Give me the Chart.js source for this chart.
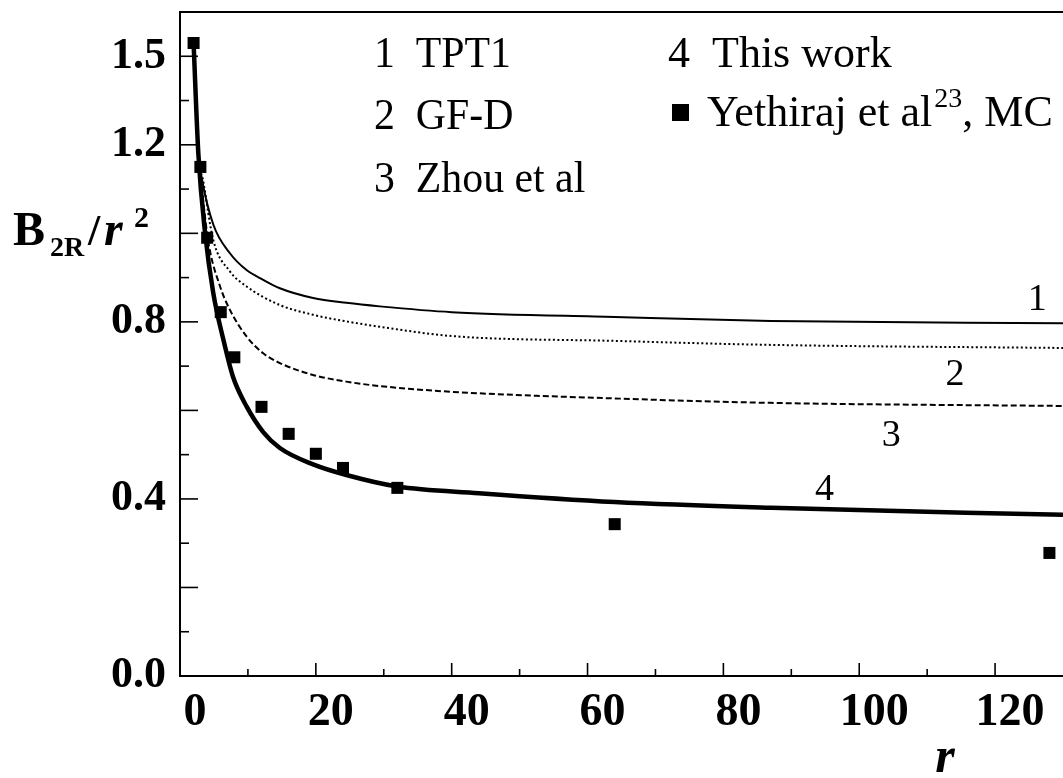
<!DOCTYPE html>
<html>
<head>
<meta charset="utf-8">
<script src="https://cdn.jsdelivr.net/npm/chart.js@4"></script>
<style>
  body { margin: 0; background: #fff; }
</style>
</head>
<body>
<canvas id="chart" width="1063" height="778"></canvas>
<script>
// MC points, Yethiraj et al
const mcR = [2, 3, 4, 6, 8, 12, 16, 20, 24, 32, 64, 128];
const mcB = [1.43, 1.15, 0.99, 0.822, 0.72, 0.608, 0.547, 0.502, 0.47, 0.425, 0.343, 0.278];

// curve 1: TPT1
const tpt1R = [2, 2.7, 3.2, 4.9, 7.35, 9.8, 12.25, 14.7, 19.6, 24.5, 29.4, 40, 64, 87, 130];
const tpt1B = [1.43, 1.18, 1.125, 1.02, 0.955, 0.917, 0.895, 0.876, 0.854, 0.843, 0.835, 0.822, 0.811, 0.802, 0.797];

// curve 2: GF-D
const gfdR = [2, 2.7, 3.4, 4.9, 7.35, 9.8, 14.7, 19.6, 24.5, 29.4, 40, 64, 87, 130];
const gfdB = [1.43, 1.18, 1.12, 0.985, 0.914, 0.88, 0.838, 0.816, 0.801, 0.789, 0.768, 0.757, 0.748, 0.741];

// curve 3: Zhou et al
const zhouR = [2, 2.7, 3.3, 4.2, 5.9, 7.35, 9.8, 12.25, 14.7, 19.6, 24.5, 29.4, 40, 64, 87, 130];
const zhouB = [1.43, 1.18, 1.09, 0.978, 0.88, 0.827, 0.767, 0.729, 0.707, 0.68, 0.665, 0.655, 0.642, 0.627, 0.617, 0.61];

// curve 4: this work
const thisR = [2, 2.7, 3.7, 4.9, 6.4, 7.8, 9.8, 12.25, 14.7, 19.6, 24.5, 32, 44, 64, 87, 130];
const thisB = [1.43, 1.18, 1.0, 0.865, 0.759, 0.676, 0.609, 0.551, 0.515, 0.478, 0.454, 0.428, 0.413, 0.393, 0.38, 0.364];

const xLabels = [0, 20, 40, 60, 80, 100, 120];
// the scanned figure writes "1.5" next to the 1.4 tick
const yLabels = { 0: "0.0", 4: "0.4", 8: "0.8", 12: "1.2", 14: "1.5" };
const curveTags = ["1", "2", "3", "4"];
const legendLines = ["1  TPT1", "2  GF-D", "3  Zhou et al", "4  This work"];

const SERIF = "'Liberation Serif', 'Times New Roman', serif";

function pts(rs, bs) {
  return rs.map((r, i) => ({ x: r, y: bs[i] }));
}

function curve(label, rs, bs, width, dash) {
  return {
    label: label,
    data: pts(rs, bs),
    borderColor: "#000",
    borderWidth: width,
    borderDash: dash,
    pointRadius: 0,
    fill: false,
    cubicInterpolationMode: "monotone",
  };
}

// draws a string, returns its advance width
function text(ctx, str, x, y, font, align, sx) {
  sx = sx || 1;
  ctx.save();
  ctx.translate(x, y);
  ctx.scale(sx, 1);
  ctx.font = font;
  ctx.textAlign = align || "left";
  ctx.textBaseline = "alphabetic";
  ctx.fillStyle = "#000";
  ctx.fillText(str, 0, 0);
  const w = ctx.measureText(str).width * sx;
  ctx.restore();
  return w;
}

const decor = {
  id: "decor",
  afterDraw(chart) {
    const ctx = chart.ctx;
    const xs = chart.scales.x;
    const ys = chart.scales.y;
    const area = chart.chartArea;
    ctx.save();
    ctx.strokeStyle = "#000";

    // top frame line
    ctx.lineWidth = 2;
    ctx.beginPath();
    ctx.moveTo(area.left, area.top);
    ctx.lineTo(area.right, area.top);
    ctx.stroke();

    // inward tick marks
    ctx.lineWidth = 1.6;
    for (let i = 1; i <= 14; i++) {
      const py = ys.getPixelForValue(i / 10);
      const len = i % 2 === 0 ? 18 : 9;
      ctx.beginPath();
      ctx.moveTo(area.left, py);
      ctx.lineTo(area.left + len, py);
      ctx.stroke();
    }
    for (let v = 10; v <= 120; v += 10) {
      const px = xs.getPixelForValue(v);
      const len = v % 20 === 0 ? 13 : 7;
      ctx.beginPath();
      ctx.moveTo(px, area.bottom);
      ctx.lineTo(px, area.bottom - len);
      ctx.stroke();
    }
    ctx.restore();

    // axis titles
    text(ctx, "B", 13, 245, "bold 48px " + SERIF);
    text(ctx, "2R", 50, 256, "bold 28px " + SERIF);
    text(ctx, "/", 88, 245, "bold 44px " + SERIF);
    text(ctx, "r", 104, 245, "italic bold 48px " + SERIF);
    text(ctx, "2", 134, 227, "bold 30px " + SERIF);
    text(ctx, "r", 945, 772, "italic bold 50px " + SERIF, "center");

    // curve numbers
    const tagAt = [[126.2, 0.857], [114.1, 0.687], [104.7, 0.549], [94.9, 0.427]];
    curveTags.forEach((t, i) => {
      text(ctx, t, xs.getPixelForValue(tagAt[i][0]), ys.getPixelForValue(tagAt[i][1]) + 13,
        "38px " + SERIF, "center");
    });

    // legend block
    const lf = "44px " + SERIF;
    const sx = 0.95;
    text(ctx, legendLines[0], 374, 67, lf, "left", sx);
    text(ctx, legendLines[1], 374, 129, lf, "left", sx);
    text(ctx, legendLines[2], 374, 192, lf, "left", sx);
    text(ctx, legendLines[3], 668, 67, lf, "left", 1);
    ctx.fillStyle = "#000";
    ctx.fillRect(672, 104, 17, 17);
    let px = 707;
    px += text(ctx, "Yethiraj et al", px, 126, lf, "left", 1) + 2;
    px += text(ctx, "23", px, 107, "28px " + SERIF, "left", 1);
    text(ctx, ", MC", px, 126, lf, "left", 1);
  },
};

new Chart(document.getElementById("chart"), {
  type: "line",
  data: {
    datasets: [
      curve("TPT1", tpt1R, tpt1B, 2, []),
      curve("GF-D", gfdR, gfdB, 2, [2, 2.5]),
      curve("Zhou et al", zhouR, zhouB, 2, [6, 3]),
      curve("This work", thisR, thisB, 4.5, []),
      {
        label: "Yethiraj et al, MC",
        data: pts(mcR, mcB),
        showLine: false,
        pointStyle: "rect",
        pointRadius: 8.5,
        pointBackgroundColor: "#000",
        pointBorderColor: "#000",
        pointBorderWidth: 0,
      },
    ],
  },
  options: {
    responsive: false,
    animation: false,
    devicePixelRatio: 1,
    layout: { autoPadding: false, padding: { top: 12, left: 0, right: 0, bottom: 0 } },
    plugins: {
      legend: { display: false },
      tooltip: { enabled: false },
    },
    scales: {
      x: {
        type: "linear",
        min: 0,
        max: 130,
        afterFit: (s) => {
          s.height = 102;
          s.paddingLeft = 0;
          s.paddingRight = 0;
        },
        grid: { display: false, drawTicks: false },
        border: { display: true, color: "#000", width: 2 },
        ticks: {
          stepSize: 10,
          padding: 10,
          labelOffset: 15,
          maxRotation: 0,
          autoSkip: false,
          color: "#000",
          font: { family: SERIF, size: 46, weight: "bold" },
          callback: (v) => (xLabels.includes(v) ? String(v) : ""),
        },
      },
      y: {
        min: 0,
        max: 1.5,
        afterFit: (s) => {
          s.width = 180;
          s.paddingTop = 0;
          s.paddingBottom = 0;
        },
        grid: { display: false, drawTicks: false },
        border: { display: true, color: "#000", width: 2 },
        ticks: {
          stepSize: 0.1,
          padding: 14,
          autoSkip: false,
          color: "#000",
          font: { family: SERIF, size: 44, weight: "bold" },
          callback: (v) => yLabels[Math.round(v * 10)] || "",
        },
      },
    },
  },
  plugins: [decor],
});
</script>
</body>
</html>
